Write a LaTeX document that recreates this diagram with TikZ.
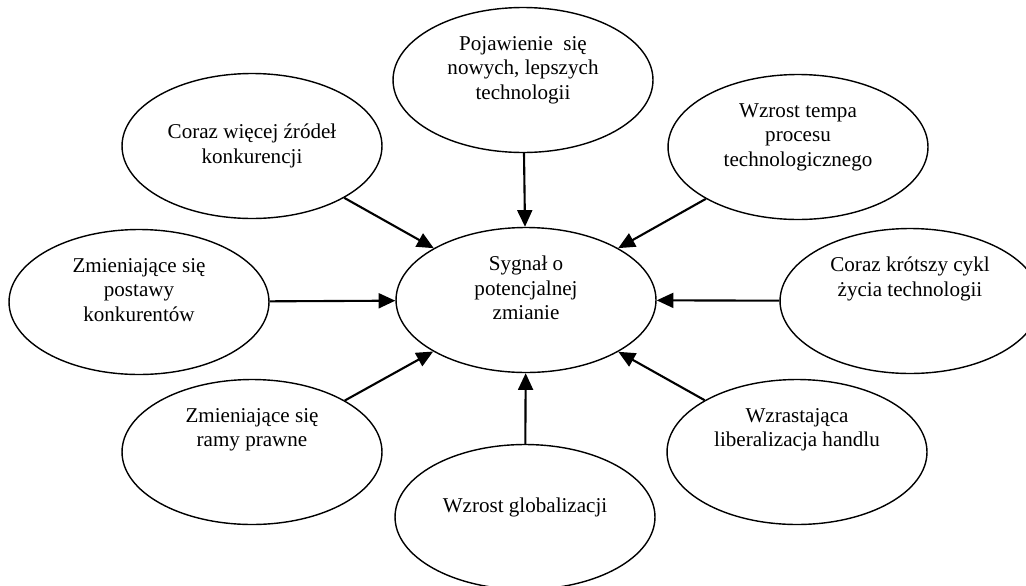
\documentclass[tikz,border=0pt]{standalone}
\usepackage{fontspec}
\setmainfont{Liberation Serif}
\usepackage{tikz}
\usetikzlibrary{arrows.meta, shapes.geometric}
\tikzstyle{plansza} = [x = 0.02cm, y = -0.02cm]
\tikzstyle{czynnik} = [draw, ellipse, line width=0.8pt, inner sep=0pt, minimum width=5.2cm, minimum height=2.9cm, align=center, font=\fontsize{12pt}{13.9pt}\selectfont]
\tikzstyle{wplyw} = [line width=1.2pt, -{Triangle[length=9.5pt, width=8.5pt]}]
\newcommand{\pusta}{\\ \mbox{}}

\begin{document}
\begin{tikzpicture}[plansza]
          \useasboundingbox (0,0) rectangle (1026,585);
          \node [czynnik] (sygnal) at (526,300) {Sygnał o\\potencjalnej\\zmianie\pusta};
          \node [czynnik] (technologie) at (523,80) {Pojawienie\ \ się\\nowych, lepszych\\technologii\pusta};
          \node [czynnik] (zrodla) at (252,146) {Coraz więcej źródeł\\konkurencji};
          \node [czynnik] (tempo) at (798,147) {Wzrost tempa\\procesu\\technologicznego\pusta};
          \node [czynnik] (postawy) at (139,302) {Zmieniające się\\postawy\\konkurentów\pusta};
          \node [czynnik] (cykl) at (910,301) {Coraz krótszy cykl\\życia technologii\pusta\pusta};
          \node [czynnik] (prawo) at (252,452) {Zmieniające się\\ramy prawne\pusta\pusta};
          \node [czynnik] (globalizacja) at (525,517) {Wzrost globalizacji\pusta};
          \node [czynnik] (handel) at (797,452) {Wzrastająca\\liberalizacja handlu\pusta\pusta};

          \foreach \zrodlo in {technologie, zrodla, tempo, postawy, cykl, prawo, globalizacja, handel} {
            \draw [wplyw] (\zrodlo) -- (sygnal);
          }
        \end{tikzpicture}
\end{document}
